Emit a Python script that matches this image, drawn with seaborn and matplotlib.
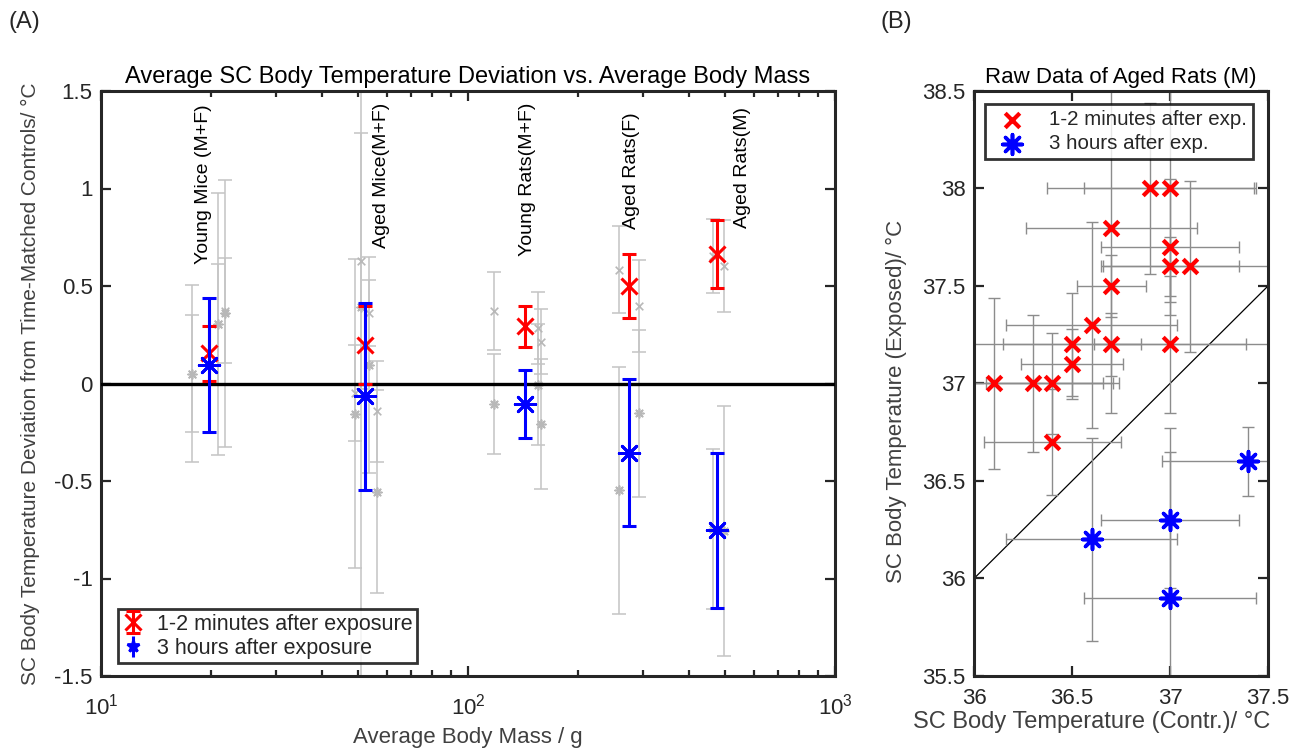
import numpy as np
import pandas as pd
import seaborn as sns
from matplotlib import pyplot as plt
from matplotlib.ticker import FixedLocator, FuncFormatter, LogLocator, NullFormatter

sns.set_style("ticks")
plt.rcParams["font.family"] = ["Liberation Sans", "DejaVu Sans"]

TXT = "#262626"

# ---- panel A: group means ----
GROUPS = ["Young Mice (M+F)", "Aged Mice(M+F)", "Young Rats(M+F)", "Aged Rats(F)", "Aged Rats(M)"]
group_mass = [19.7, 52.3, 142.8, 275, 478]
early_mean = [0.155, 0.20, 0.293, 0.50, 0.663]
early_err = [0.14, 0.20, 0.107, 0.165, 0.173]
late_mean = [0.095, -0.065, -0.104, -0.354, -0.752]
late_err = [0.345, 0.48, 0.174, 0.375, 0.397]
label_mass = [19.0, 58.0, 145.0, 279.0, 558.0]
label_top = [1.43, 1.44, 1.44, 1.39, 1.42]

# ---- panel A: individual sub-groups (gray) ----
gray_mass = [17.7, 17.7, 20.8, 20.8, 21.8, 21.8,
             49.1, 49.1, 51.2, 51.2, 53.6, 53.6, 56.5, 56.5,
             118, 118, 155, 158, 155, 158,
             257.5, 257.5, 293, 293,
             465, 465, 498, 498]
gray_val = [0.05, 0.05, 0.305, 0.305, 0.36, 0.373,
            -0.05, -0.154, 0.628, 0.394, 0.36, 0.095, -0.143, -0.555,
            0.373, -0.105, 0.283, 0.215, -0.007, -0.206,
            0.584, -0.548, 0.397, -0.153,
            0.655, -0.748, 0.604, -0.755]
gray_err = [0.455, 0.30, 0.67, 0.31, 0.686, 0.27,
            0.246, 0.79, 0.656, 2.0, 0.17, 0.555, 0.258, 0.52,
            0.20, 0.254, 0.185, 0.165, 0.31, 0.333,
            0.224, 0.635, 0.237, 0.427,
            0.19, 0.41, 0.236, 0.642]
gray_mark = ["*", "x", "*", "x", "*", "x",
             "x", "*", "x", "*", "x", "*", "x", "*",
             "x", "*", "x", "x", "*", "*",
             "x", "*", "x", "*",
             "x", "*", "x", "*"]

# ---- panel B: raw data of aged rats (M) ----
b_early_ctrl = [36.1, 36.3, 36.4, 36.5, 36.5, 36.6, 36.7, 36.7, 36.7, 36.9, 37.0, 37.0, 37.0, 37.1, 37.0, 36.4]
b_early_exp = [37.0, 37.0, 37.0, 37.1, 37.2, 37.3, 37.5, 37.2, 37.8, 38.0, 38.0, 37.7, 37.6, 37.6, 37.2, 36.7]
b_early_xerr = [0.56, 0.41, 0.34, 0.26, 0.35, 0.437, 0.175, 0.90, 0.437, 0.53, 0.44, 0.35, 0.35, 0.44, 0.39, 0.35]
b_early_yerr = [0.44, 0.35, 0.257, 0.18, 0.265, 0.53, 0.16, 0.16, 0.95, 0.44, 0.58, 0.35, 0.15, 0.44, 0.35, 0.27]

b_late_ctrl = [36.6, 37.0, 37.0, 37.4]
b_late_exp = [36.2, 36.3, 35.9, 36.6]
b_late_xerr = [0.435, 0.35, 0.437, 0.44]
b_late_yerr = [0.523, 0.35, 0.87, 0.175]

STAR = (8, 2, 0)
W, H = 1304, 751


def style_box(ax, xpad):
    for s in ax.spines.values():
        s.set_visible(True)
        s.set_linewidth(2.2)
        s.set_color(TXT)
    ax.tick_params(which="both", direction="in", top=True, right=True,
                   colors=TXT, labelsize=16, width=1.6)
    ax.tick_params(which="major", length=7)
    ax.tick_params(which="minor", length=4)
    ax.tick_params(axis="y", pad=6)
    ax.tick_params(axis="x", pad=xpad)


fig = plt.figure(figsize=(W / 100, H / 100), dpi=100)
axA = fig.add_axes([101 / W, 1 - 676 / H, 734 / W, 585 / H])
axB = fig.add_axes([974 / W, 1 - 676 / H, 294 / W, 585 / H])

# ----- panel A -----
axA.set_xscale("log")
axA.axhline(0, color="black", lw=2.4, zorder=3)

gray = pd.DataFrame({"mass": gray_mass, "val": gray_val, "err": gray_err, "mark": gray_mark})
axA.errorbar(gray["mass"], gray["val"], yerr=gray["err"], fmt="none",
             ecolor="#c4c4c4", elinewidth=1.1, capsize=5, capthick=1.1, zorder=2)
sns.scatterplot(data=gray[gray["mark"] == "x"], x="mass", y="val", marker="x",
                color="#b8b8b8", s=30, linewidth=1.2, ax=axA, zorder=2, legend=False)
sns.scatterplot(data=gray[gray["mark"] == "*"], x="mass", y="val", marker=STAR,
                color="#b8b8b8", s=40, linewidth=1.2, ax=axA, zorder=2, legend=False)

h1 = axA.errorbar(group_mass, early_mean, yerr=early_err, fmt="x", color="red",
                  ms=11, mew=2.2, elinewidth=2.2, capsize=5, capthick=2.2, zorder=4,
                  label="1-2 minutes after exposure")
axA.errorbar(group_mass, late_mean, yerr=late_err, fmt="none", ecolor="blue",
             elinewidth=2.2, capsize=5, capthick=2.2, zorder=5)
sns.scatterplot(x=group_mass, y=late_mean, marker=STAR, color="blue", s=220,
                linewidth=2.0, ax=axA, zorder=6, legend=False)
h2 = axA.errorbar([], [], yerr=[], fmt="*", color="blue", ms=9, mew=2,
                  elinewidth=2.2, capsize=5, capthick=2.2, label="3 hours after exposure")

for name, m, top in zip(GROUPS, label_mass, label_top):
    axA.text(m, top, name, rotation=90, ha="center", va="top", fontsize=14, color="black")

axA.set_xlim(10, 1000)
axA.set_ylim(-1.5, 1.5)
axA.xaxis.set_major_locator(LogLocator(base=10, numticks=5))
axA.xaxis.set_minor_locator(LogLocator(base=10, subs=np.arange(2, 10), numticks=20))
axA.xaxis.set_minor_formatter(NullFormatter())
axA.yaxis.set_major_locator(FixedLocator([-1.5, -1, -0.5, 0, 0.5, 1, 1.5]))
axA.yaxis.set_major_formatter(FuncFormatter(lambda v, p: f"{v:g}"))
style_box(axA, 13)
axA.set_title("Average SC Body Temperature Deviation vs. Average Body Mass",
              fontsize=17, color="black", pad=6)
axA.set_xlabel("Average Body Mass / g", fontsize=16, color="#404040", va="top")
axA.xaxis.set_label_coords(0.5, -(727 - 676) / 585)
axA.set_ylabel("SC Body Temperature Deviation from Time-Matched Controls/ °C",
               fontsize=15, color="#404040")
axA.yaxis.set_label_coords(-(101 - 40) / 734, 0.5)
leg = axA.legend(handles=[h1, h2], loc="lower left", bbox_to_anchor=(0.023, 0.022),
                 borderaxespad=0, fontsize=15.5, frameon=True, fancybox=False,
                 handlelength=1.0, handletextpad=0.6, borderpad=0.2, labelspacing=0.15)
leg.get_frame().set_edgecolor("black")
leg.get_frame().set_linewidth(2)

# ----- panel B -----
axB.plot([36, 37.5], [36, 37.5], color="black", lw=0.9, zorder=1)
axB.errorbar(b_early_ctrl, b_early_exp, xerr=b_early_xerr, yerr=b_early_yerr, fmt="none",
             ecolor="#8c8c8c", elinewidth=1.0, capsize=4, capthick=1.0, zorder=2)
axB.errorbar(b_late_ctrl, b_late_exp, xerr=b_late_xerr, yerr=b_late_yerr, fmt="none",
             ecolor="#8c8c8c", elinewidth=1.0, capsize=4, capthick=1.0, zorder=2)
sns.scatterplot(x=b_early_ctrl, y=b_early_exp, marker="x", color="red", s=110,
                linewidth=3, ax=axB, zorder=4, label="1-2 minutes after exp.")
sns.scatterplot(x=b_late_ctrl, y=b_late_exp, marker=STAR, color="blue", s=200,
                linewidth=2.6, ax=axB, zorder=4, label="3 hours after exp.")

axB.set_xlim(36, 37.5)
axB.set_ylim(35.5, 38.5)
axB.xaxis.set_major_locator(FixedLocator([36, 36.5, 37, 37.5]))
axB.yaxis.set_major_locator(FixedLocator([35.5, 36, 36.5, 37, 37.5, 38, 38.5]))
axB.xaxis.set_major_formatter(FuncFormatter(lambda v, p: f"{v:g}"))
axB.yaxis.set_major_formatter(FuncFormatter(lambda v, p: f"{v:g}"))
style_box(axB, 9)
axB.set_title("Raw Data of Aged Rats (M)", fontsize=16, color="black", pad=6)
axB.set_xlabel("SC Body Temperature (Contr.)/ °C", fontsize=17, color="#404040", va="top")
axB.xaxis.set_label_coords(0.4, -(711 - 676) / 585)
axB.set_ylabel("SC Body Temperature (Exposed)/ °C", fontsize=16, color="#404040")
axB.yaxis.set_label_coords(-(974 - 907) / 294, 0.47)
legB = axB.legend(loc="upper left", bbox_to_anchor=(0.037, 0.978), borderaxespad=0,
                  fontsize=14.8, frameon=True, fancybox=False, handletextpad=0.8,
                  borderpad=0.3, labelspacing=0.25)
legB.get_frame().set_edgecolor("black")
legB.get_frame().set_linewidth(2)

fig.text(8 / W, 1 - 22 / H, "(A)", fontsize=17, va="center", ha="left")
fig.text(880 / W, 1 - 22 / H, "(B)", fontsize=17, va="center", ha="left")

fig.savefig("out.png", dpi=100)
